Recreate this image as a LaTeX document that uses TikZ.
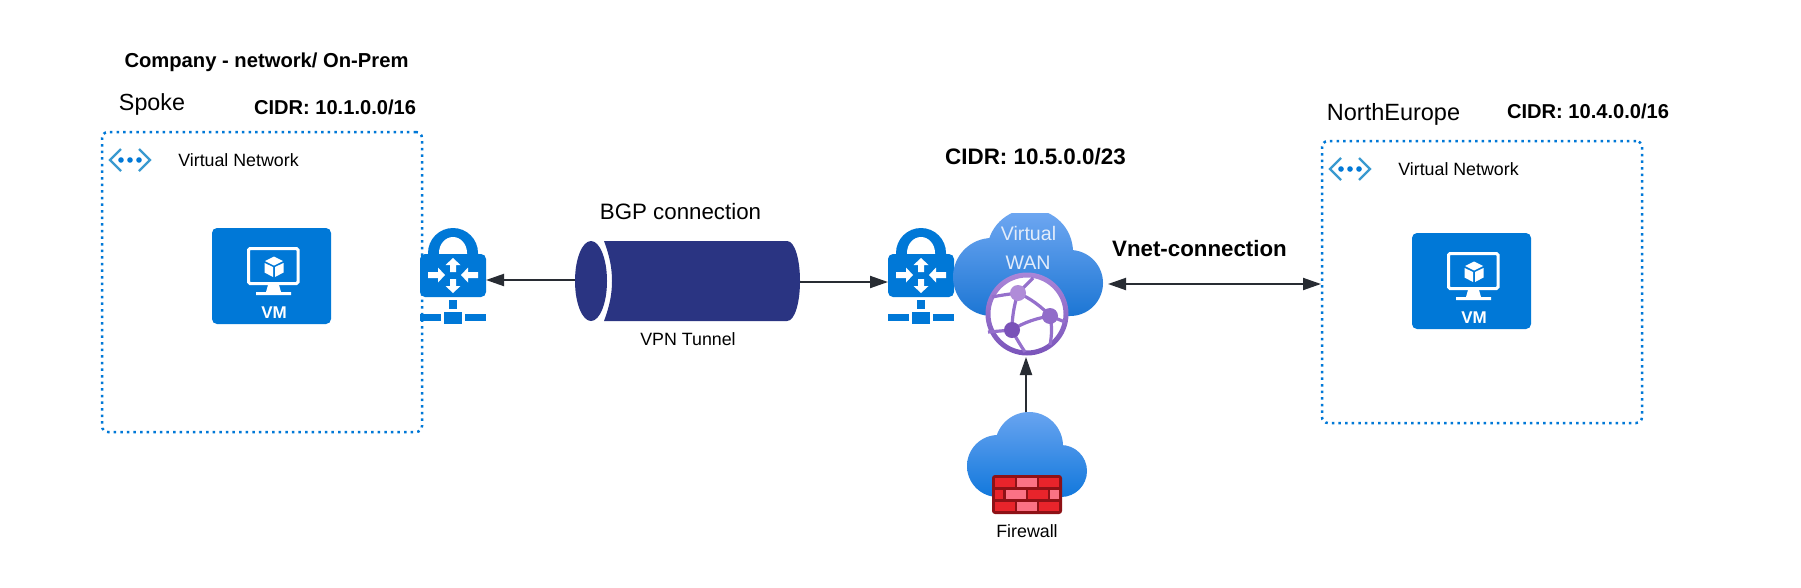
\documentclass[tikz,border=0pt]{standalone}
\usepackage{fontspec}
\setmainfont{Liberation Sans}
\usetikzlibrary{arrows.meta}
\definecolor{azblue}{HTML}{0078D7}
\definecolor{chev}{HTML}{3A9AD0}
\definecolor{arrowdark}{HTML}{282C33}
\definecolor{tunnelblue}{HTML}{2A3482}
\definecolor{fwdark}{HTML}{8E1116}
\definecolor{fwred}{HTML}{E8242B}
\definecolor{fwpink}{HTML}{FB7285}
\definecolor{globeA}{HTML}{B08CD8}
\definecolor{globeB}{HTML}{9570CC}
\definecolor{globeC}{HTML}{7A52B8}
\tikzset{
  x=1pt,y=-1pt,
  txt/.style={inner sep=0pt,outer sep=0pt,font=\fontsize{#1}{#1}\selectfont,text=black},
  btxt/.style={inner sep=0pt,outer sep=0pt,font=\fontsize{#1}{#1}\selectfont\bfseries,text=black},
  wantxt/.style={inner sep=0pt,text={rgb,255:red,226;green,236;blue,250},font=\fontsize{19.6}{19.6}\selectfont},
  vnetbox/.style={draw=azblue,line width=2.5pt,dash pattern=on 2.5pt off 4.1pt,rounded corners=6pt,
    minimum width=320pt,inner sep=0pt,outer sep=0pt},
  holder/.style={inner sep=0pt,outer sep=0pt},
  conn/.style={draw=arrowdark,line width=2pt,-{Triangle[length=18pt,width=12pt]}},
  connboth/.style={draw=arrowdark,line width=2pt,{Triangle[length=18pt,width=12pt]}-{Triangle[length=18pt,width=12pt]}},
  vmicon/.pic={
    \fill[azblue,rounded corners=5pt] (0,0) rectangle (119,96);
    \draw[white,line width=3pt,rounded corners=1.5pt] (36.5,20.5) rectangle (86,55.5);
    \fill[white] (56,57) -- (67,57) -- (69,64) -- (79,64) -- (79,67) -- (44,67) -- (44,64) -- (54,64) -- cycle;
    \fill[white] (62,28.5) -- (71,33) -- (62,37.5) -- (53,33) -- cycle;
    \fill[white] (52.5,35) -- (61,39) -- (61,49) -- (52.5,44.5) -- cycle;
    \fill[white] (71.5,35) -- (63,39) -- (63,49) -- (71.5,44.5) -- cycle;
    \node[inner sep=0pt,text=white,font=\fontsize{17}{17}\selectfont\bfseries] (-label) at (62,84.5) {VM};
  },
  vneticon/.pic={
    \draw[chev,line width=2.4pt] (11,-11) -- (0,0) -- (11,11);
    \draw[chev,line width=2.4pt] (29,-11) -- (40,0) -- (29,11);
    \fill[azblue] (11,0) circle (2.8pt) (20,0) circle (2.8pt) (29,0) circle (2.8pt);
  },
  gwicon/.pic={
    \fill[azblue] (8,30) -- (8,25) arc[start angle=180,end angle=0,radius=25pt] -- (58,30) -- cycle;
    \fill[white] (19,26) -- (19,25) arc[start angle=180,end angle=0,x radius=14pt,y radius=16pt] -- (47,26) -- cycle;
    \fill[azblue,rounded corners=5pt] (0,26) rectangle (66,69);
    \fill[white] (33,30) -- (40.5,37) -- (36,37) -- (36,44) -- (30,44) -- (30,37) -- (25.5,37) -- cycle;
    \fill[white] (33,65) -- (40.5,58) -- (36,58) -- (36,51) -- (30,51) -- (30,58) -- (25.5,58) -- cycle;
    \fill[white] (25,47) -- (18,39.5) -- (18,44) -- (8,44) -- (8,50) -- (18,50) -- (18,54.5) -- cycle;
    \fill[white] (41,47) -- (48,39.5) -- (48,44) -- (58,44) -- (58,50) -- (48,50) -- (48,54.5) -- cycle;
    \fill[azblue] (29.3,72) rectangle (37,81);
    \fill[azblue] (24,84) rectangle (42,96);
    \fill[azblue] (0,86) rectangle (21,93);
    \fill[azblue] (45,86) rectangle (66,93);
  }
}
\begin{document}
\begin{tikzpicture}
\useasboundingbox (0,0) rectangle (1801,587);
\fill[white] (0,0) rectangle (1801,587);

% titles
\node[btxt=20.2] (title) at (266.5,62) {Company - network/ On-Prem};
\node[txt=23.3] (spoke) at (152,104) {Spoke};
\node[btxt=20.1] (cidrA) at (335,107) {CIDR: 10.1.0.0/16};
\node[btxt=22.4] (cidrB) at (1035.5,156.5) {CIDR: 10.5.0.0/23};
\node[txt=23.5] (north) at (1393.5,114) {NorthEurope};
\node[btxt=20.1] (cidrC) at (1588,111) {CIDR: 10.4.0.0/16};
\node[txt=22.3] (bgp) at (680.5,212) {BGP connection};
\node[txt=17.8] (vpn) at (688,339) {VPN Tunnel};
\node[btxt=22.3] (vnetconn) at (1199.5,249) {Vnet-connection};
\node[txt=17.8] (fwlabel) at (1027,531) {Firewall};

% virtual network boxes
\node[vnetbox,minimum height=300pt] (boxS) at (262,282) {};
\node[vnetbox,minimum height=282pt] (boxN) at (1482,282) {};
\pic at (110,160) {vneticon};
\pic at (1330,169) {vneticon};
\node[txt=17.8] (vnA) at (238.5,160) {Virtual Network};
\node[txt=17.8] (vnB) at (1458.5,169) {Virtual Network};
\pic (vmA) at (212,228) {vmicon};
\pic (vmB) at (1412,233) {vmicon};

% gateways
\pic at (420,228) {gwicon};
\pic at (888,228) {gwicon};
\node[holder,minimum width=66pt,minimum height=40pt] (gwL) at (453,281) {};
\node[holder,minimum width=65pt,minimum height=40pt] (gwR) at (920.5,281) {};

% tunnel
\fill[tunnelblue] (604,241) -- (787,241) .. controls (795,241) and (800,260) .. (800,281)
  .. controls (800,302) and (795,321) .. (787,321) -- (604,321)
  .. controls (610,305) and (612,293) .. (612,281) .. controls (612,269) and (610,257) .. (604,241) -- cycle;
\fill[tunnelblue] (591,281) ellipse[x radius=16pt,y radius=40pt];
\node[holder,minimum width=225pt,minimum height=80pt] (tunnel) at (687.5,281) {};

% Virtual WAN cloud
\begin{scope}
  \clip (940,213) rectangle (1110,330);
  \shade[top color={rgb,255:red,112;green,168;blue,242},bottom color={rgb,255:red,28;green,118;blue,212}]
    (1030,252) circle (43pt) (992,277) circle (39pt) (1070,283) circle (33pt)
    (992,316) -- (1070,316) -- (1070,270) -- (992,270) -- cycle;
\end{scope}
\node[holder,minimum width=150pt,minimum height=100pt] (wan) at (1028,284) {};
\node[wantxt] (wanA) at (1028.5,233) {Virtual};
\node[wantxt] (wanB) at (1028,263) {WAN};

% globe
\node[circle,fill=white,minimum size=80pt,inner sep=0pt,outer sep=0pt] (globe) at (1027,314) {};
\shade[even odd rule,top color={rgb,255:red,170;green,134;blue,216},bottom color={rgb,255:red,122;green,84;blue,186}]
  (1027,314) circle (41.5pt) (1027,314) circle (36.5pt);
\draw[globeB,line width=3.2pt]
  (992,297) .. controls (1002,295) and (1010,294) .. (1018,293)
  (1018,293) -- (1033,278)
  (1018,293) .. controls (1030,298) and (1042,307) .. (1050,316)
  (1018,293) .. controls (1014,305) and (1012,318) .. (1012,330)
  (1012,330) .. controls (1024,322) and (1038,318) .. (1050,316)
  (1012,330) -- (988,332)
  (1012,330) .. controls (1016,338) and (1021,346) .. (1025,352)
  (1050,316) -- (1065,322)
  (1050,316) .. controls (1052,325) and (1052,335) .. (1050,345);
\fill[globeA] (1018,293) circle (8pt);
\fill[globeB!85!globeC] (1050,316) circle (8pt);
\fill[globeC] (1012,330) circle (8pt);

% firewall cloud
\shade[top color={rgb,255:red,104;green,164;blue,240},bottom color={rgb,255:red,18;green,120;blue,220}]
  (1029,446) circle (34pt) (998,466) circle (31pt) (1061,471) circle (26pt)
  (998,497) -- (1061,497) -- (1061,460) -- (998,460) -- cycle;
\node[holder,minimum width=120pt,minimum height=85pt] (fwcloud) at (1027,454.5) {};
\fill[fwdark,rounded corners=3pt] (992,475) rectangle (1062,514);
\fill[fwred] (995,478.3) rectangle (1015,487.3);
\fill[fwpink] (1017.3,478.3) rectangle (1036.7,487.3);
\fill[fwred] (1039,478.3) rectangle (1059.3,487.3);
\fill[fwred] (995,490) rectangle (1003.3,499);
\fill[fwpink] (1006,490) rectangle (1025.7,499);
\fill[fwred] (1028.3,490) rectangle (1047.7,499);
\fill[fwpink] (1050.3,490) rectangle (1059.3,499);
\fill[fwred] (995,501.7) rectangle (1015,510.7);
\fill[fwpink] (1017.3,501.7) rectangle (1036.7,510.7);
\fill[fwred] (1039,501.7) rectangle (1059.3,510.7);

% connectors
\draw[conn] ([yshift=1pt]tunnel.west) -- ([yshift=1pt]gwL.east);
\draw[conn] ([yshift=-1pt]tunnel.east) -- ([yshift=-1pt]gwR.west);
\draw[conn] ([xshift=-1pt]fwcloud.north) -- ([xshift=-1pt,yshift=-3pt]globe.south);
\draw[connboth] ([xshift=5pt]wan.east) -- ([xshift=-1pt]boxN.west |- wan.east);
\end{tikzpicture}
\end{document}
